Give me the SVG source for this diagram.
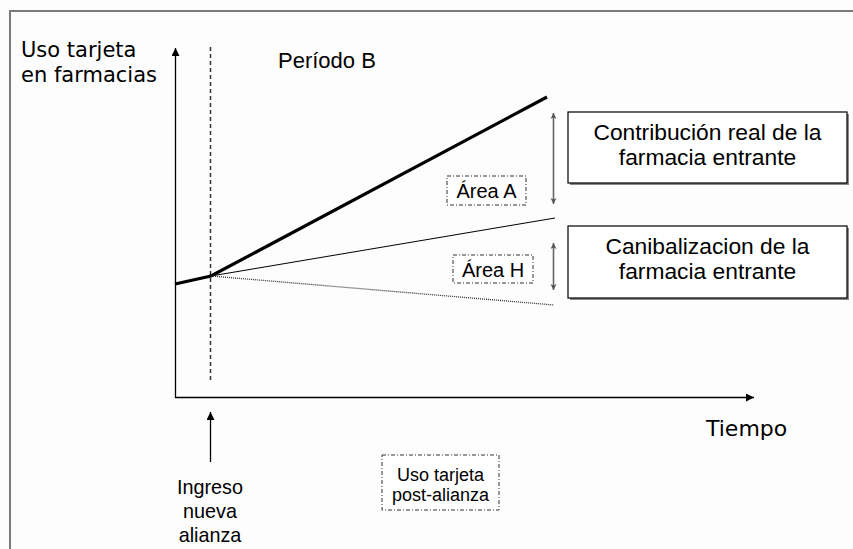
<svg xmlns="http://www.w3.org/2000/svg" width="853" height="549" viewBox="0 0 853 549">
  <style>
    .arial { font-family: "Liberation Sans", Arial, sans-serif; fill: #000; }
    .humanist { font-family: "DejaVu Sans", Verdana, sans-serif; fill: #000; }
    .box { fill: #fff; stroke: #000; stroke-width: 1.2; }
    .tag { fill: #fff; stroke: #333; stroke-width: 1; stroke-dasharray: 4 2 1 2; }
    .axis { stroke: #000; stroke-width: 1.3; fill: none; }
    .span { stroke: #666; stroke-width: 1.6; fill: none; }
  </style>
  <defs>
    <marker id="head" markerUnits="userSpaceOnUse" markerWidth="9" markerHeight="9" refX="8" refY="4" orient="auto">
      <path d="M0,0 L8,4 L0,8 z" fill="#000"/>
    </marker>
    <marker id="headSmall" markerUnits="userSpaceOnUse" markerWidth="7" markerHeight="7" refX="6" refY="3" orient="auto-start-reverse">
      <path d="M0,0 L6,3 L0,6 L1.5,3 z" fill="#555"/>
    </marker>
  </defs>

  <rect x="0" y="0" width="853" height="549" fill="#fdfdfd"/>

  <!-- slide frame -->
  <g id="frame">
    <path d="M10,549 V11 H853" fill="none" stroke="#7a7a7a" stroke-width="2"/>
  </g>

  <!-- axes, reference line and trend lines -->
  <g id="connectors">
    <line class="axis" x1="175.5" y1="398" x2="175.5" y2="48" marker-end="url(#head)"/>
    <line class="axis" x1="175" y1="397.5" x2="754" y2="397.5" marker-end="url(#head)"/>
    <line x1="210.5" y1="47" x2="210.5" y2="381" stroke="#333" stroke-width="1.5" stroke-dasharray="4 3"/>
    <line class="axis" x1="210.5" y1="462" x2="210.5" y2="412" marker-end="url(#head)"/>
    <!-- trend with new partner -->
    <polyline points="175,284 211,276 547,97" fill="none" stroke="#000" stroke-width="3.2"/>
    <!-- expected trend -->
    <line x1="211" y1="276" x2="555" y2="218" stroke="#000" stroke-width="1"/>
    <!-- baseline trend -->
    <line x1="211" y1="276" x2="554" y2="305" stroke="#333" stroke-width="1.3" stroke-dasharray="1 1"/>
    <!-- magnitude spans -->
    <line class="span" x1="553.5" y1="113" x2="553.5" y2="204" marker-start="url(#headSmall)" marker-end="url(#headSmall)"/>
    <line class="span" x1="553.5" y1="243" x2="553.5" y2="290" marker-start="url(#headSmall)" marker-end="url(#headSmall)"/>
  </g>

  <g id="label-y">
    <text class="humanist" x="21" y="57" font-size="21">Uso tarjeta</text>
    <text class="humanist" x="21" y="82" font-size="21">en farmacias</text>
  </g>

  <g id="label-x">
    <text class="humanist" x="706" y="436" font-size="22">Tiempo</text>
  </g>

  <g id="label-period">
    <text class="arial" x="278" y="68" font-size="22">Período B</text>
  </g>

  <g id="box-contribucion">
    <rect x="570" y="114" width="279" height="71" fill="#888"/>
    <rect class="box" x="568" y="112" width="279" height="71"/>
    <text class="arial" x="707.5" y="140" font-size="22.8" text-anchor="middle">Contribución real de la</text>
    <text class="arial" x="707.5" y="165" font-size="22.8" text-anchor="middle">farmacia entrante</text>
  </g>

  <g id="box-canibalizacion">
    <rect x="570" y="228" width="279" height="72" fill="#888"/>
    <rect class="box" x="568" y="226" width="279" height="72"/>
    <text class="arial" x="707.5" y="254" font-size="22.8" text-anchor="middle">Canibalizacion de la</text>
    <text class="arial" x="707.5" y="279" font-size="22.8" text-anchor="middle">farmacia entrante</text>
  </g>

  <g id="tag-area-a">
    <rect class="tag" x="447" y="176" width="79" height="29"/>
    <text class="arial" x="486.5" y="198" font-size="20" text-anchor="middle">Área A</text>
  </g>

  <g id="tag-area-h">
    <rect class="tag" x="453" y="255" width="80" height="28"/>
    <text class="arial" x="493" y="277" font-size="20" text-anchor="middle">Área H</text>
  </g>

  <g id="tag-uso-post">
    <rect class="tag" x="382" y="455" width="117" height="55"/>
    <text class="arial" x="440.5" y="481" font-size="18" text-anchor="middle">Uso tarjeta</text>
    <text class="arial" x="440.5" y="501" font-size="18" text-anchor="middle">post-alianza</text>
  </g>

  <g id="label-ingreso">
    <text class="arial" x="210" y="494" font-size="19.8" text-anchor="middle">Ingreso</text>
    <text class="arial" x="210" y="518" font-size="19.8" text-anchor="middle">nueva</text>
    <text class="arial" x="210" y="542" font-size="19.8" text-anchor="middle">alianza</text>
  </g>
</svg>
